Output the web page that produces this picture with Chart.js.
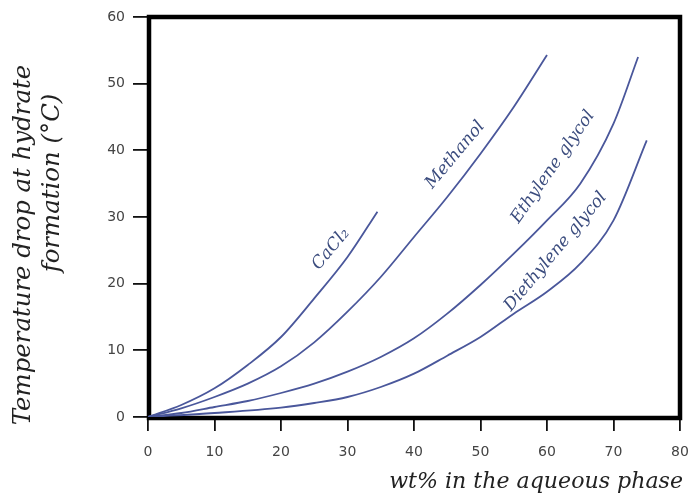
<!DOCTYPE html>
<html>
<head>
<meta charset="utf-8">
<script src="https://cdn.jsdelivr.net/npm/chart.js@4"></script>
<style>
  html, body { margin: 0; padding: 0; background: #fff; }
  #wrap { width: 688px; height: 497px; }
</style>
</head>
<body>
<div id="wrap"><canvas id="hydrate-chart" width="688" height="497"></canvas></div>
<script>
// Hydrate inhibitors: wt% in water vs. depression of formation temperature
const cacl2Wt = [0, 5, 10, 15, 20, 25, 30, 34.5];
const cacl2Drop = [0, 1.8, 4.3, 7.8, 12, 17.8, 24, 30.8];

const methanolWt = [0, 5, 10, 15, 20, 25, 30, 35, 40, 45, 50, 55, 60];
const methanolDrop = [0, 1.3, 3, 5, 7.6, 11.2, 15.8, 21, 27, 33, 39.5, 46.5, 54.3];

const egWt = [0, 5, 10, 15, 20, 25, 30, 35, 40, 45, 50, 55, 60, 65, 70, 73.7];
const egDrop = [0, 0.6, 1.5, 2.4, 3.6, 5, 6.8, 9, 11.8, 15.5, 19.8, 24.5, 29.5, 35, 44, 54];

const degWt = [0, 10, 20, 25, 30, 35, 40, 45, 50, 55, 60, 65, 70, 75];
const degDrop = [0, 0.6, 1.4, 2.1, 3, 4.5, 6.5, 9.2, 12, 15.5, 18.8, 23, 29.5, 41.5];

const seriesNames = ['CaCl₂', 'Methanol', 'Ethylene glycol', 'Diethylene glycol'];
// where each curve's name sits (data units) and its slant
const labelAt = [[27.5, 25.2], [46.2, 39.3], [60.9, 37.5], [61.3, 24.8]];
const labelAngle = [-50, -50, -55, -50];

const xTicks = [0, 10, 20, 30, 40, 50, 60, 70, 80];
const yTicks = [0, 10, 20, 30, 40, 50, 60];

const lineColor = '#4a579b';
const textColor = '#3b4c7e';

const toPoints = (xs, ys) => xs.map((x, i) => ({ x, y: ys[i] }));

const datasets = [
  toPoints(cacl2Wt, cacl2Drop),
  toPoints(methanolWt, methanolDrop),
  toPoints(egWt, egDrop),
  toPoints(degWt, degDrop),
].map((pts, i) => ({
  label: seriesNames[i],
  data: pts,
  borderColor: lineColor,
  borderWidth: 1.8,
  pointRadius: 0,
  fill: false,
  cubicInterpolationMode: 'monotone',
}));

// pick a font size so the text spans the given width
const fitFont = (ctx, text, width, family) => {
  ctx.font = 'italic 20px ' + family;
  const size = 20 * width / ctx.measureText(text).width;
  return 'italic ' + size.toFixed(1) + 'px ' + family;
};

// thick box around the plot area
const frame = {
  id: 'frame',
  beforeDatasetsDraw(chart) {
    const { ctx, chartArea: a } = chart;
    ctx.save();
    ctx.strokeStyle = '#000';
    ctx.lineWidth = 4.5;
    ctx.strokeRect(a.left + 1, a.top, a.right - a.left - 1, a.bottom - a.top + 1);
    ctx.restore();
  }
};

// curve names written along each line, plus the axis captions
const captions = {
  id: 'captions',
  afterDatasetsDraw(chart) {
    const { ctx, scales } = chart;
    const serif = '"DejaVu Serif"';
    ctx.save();
    ctx.fillStyle = textColor;
    ctx.font = 'italic 17px ' + serif;
    ctx.textAlign = 'center';
    ctx.textBaseline = 'middle';
    seriesNames.forEach((name, i) => {
      const px = scales.x.getPixelForValue(labelAt[i][0]);
      const py = scales.y.getPixelForValue(labelAt[i][1]);
      ctx.save();
      ctx.translate(px, py);
      ctx.rotate(labelAngle[i] * Math.PI / 180);
      ctx.fillText(name, 0, 0);
      ctx.restore();
    });

    ctx.fillStyle = '#222';
    const xTitle = 'wt% in the aqueous phase';
    ctx.font = fitFont(ctx, xTitle, 294, serif);
    ctx.textAlign = 'right';
    ctx.textBaseline = 'alphabetic';
    ctx.fillText(xTitle, 683, 488);

    const yLine1 = 'Temperature drop at hydrate';
    const yLine2 = 'formation (°C)';
    ctx.font = fitFont(ctx, yLine1, 360, serif);
    ctx.textAlign = 'center';
    ctx.textBaseline = 'middle';
    ctx.save();
    ctx.translate(24, 245);
    ctx.rotate(-Math.PI / 2);
    ctx.fillText(yLine1, 0, 0);
    ctx.restore();
    ctx.save();
    ctx.translate(53, 183);
    ctx.rotate(-Math.PI / 2);
    ctx.fillText(yLine2, 0, 0);
    ctx.restore();
    ctx.restore();
  }
};

const tickFont = { family: '"DejaVu Sans"', size: 14 };

new Chart(document.getElementById('hydrate-chart'), {
  type: 'line',
  data: { datasets },
  options: {
    responsive: false,
    animation: false,
    layout: { padding: { top: 17, right: 8, left: 0, bottom: 0 } },
    plugins: { legend: { display: false }, tooltip: { enabled: false } },
    scales: {
      x: {
        type: 'linear',
        min: 0,
        max: 80,
        afterBuildTicks: (s) => { s.ticks = xTicks.map(v => ({ value: v })); },
        afterFit: (s) => {
          s.height = 80;
          // the "80" label may hang past the plot edge
          s.paddingLeft = 0;
          s.paddingRight = 0;
        },
        grid: { drawOnChartArea: false, tickLength: 14, tickColor: '#111', lineWidth: 1.8 },
        border: { display: false },
        ticks: { color: '#444', font: tickFont, padding: 13, maxRotation: 0 },
      },
      y: {
        type: 'linear',
        min: 0,
        max: 60,
        afterBuildTicks: (s) => { s.ticks = yTicks.map(v => ({ value: v })); },
        afterFit: (s) => { s.width = 148; },
        grid: { drawOnChartArea: false, tickLength: 15, tickColor: '#111', lineWidth: 1.8 },
        border: { display: false },
        ticks: { color: '#444', font: tickFont, padding: 8 },
      }
    }
  },
  plugins: [frame, captions]
});
</script>
</body>
</html>
